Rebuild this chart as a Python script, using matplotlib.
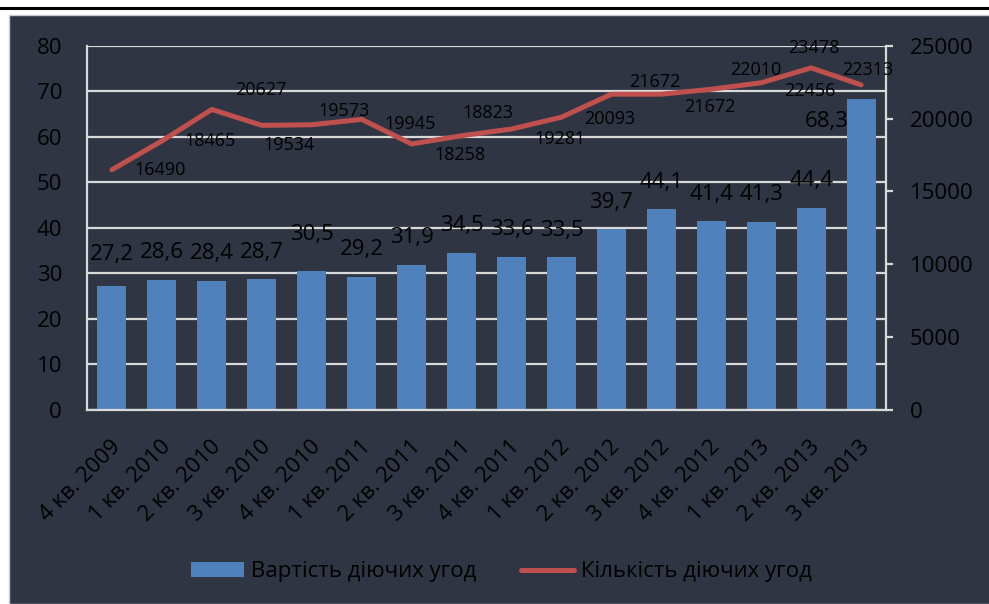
import matplotlib.pyplot as plt
import matplotlib.transforms as mtransforms
from matplotlib.patches import Rectangle
from matplotlib.lines import Line2D

plt.rcParams['font.family'] = ['Open Sans', 'DejaVu Sans']

# data
quarters = ['4 кв. 2009', '1 кв. 2010', '2 кв. 2010', '3 кв. 2010', '4 кв. 2010',
            '1 кв. 2011', '2 кв. 2011', '3 кв. 2011', '4 кв. 2011', '1 кв. 2012',
            '2 кв. 2012', '3 кв. 2012', '4 кв. 2012', '1 кв. 2013', '2 кв. 2013',
            '3 кв. 2013']
value = [27.2, 28.6, 28.4, 28.7, 30.5, 29.2, 31.9, 34.5, 33.6, 33.5,
         39.7, 44.1, 41.4, 41.3, 44.4, 68.3]
count = [16490, 18465, 20627, 19534, 19573, 19945, 18258, 18823, 19281, 20093,
         21672, 21672, 22010, 22456, 23478, 22313]

# label offsets (points)
bar_off = [(0, 23)] + [(0, 19.5)] * 3 + [(0, 26)] + [(0, 19.5)] * 10 + [(-25, -16.5)]
line_off = [(35, 0), (35, 0), (35, 14), (20, -14), (23, 10), (35, -3), (35, -8),
            (19, 16), (35, -7), (35, -1), (31, 9), (35, -9), (32, 14), (35, -6),
            (2, 14), (5, 11)]

bg = '#2f3542'
blue = '#4f81bd'
red = '#c0504d'
grid = '#d9d9d9'

fig = plt.figure(figsize=(9.89, 6.04), dpi=100)
fig.patch.set_facecolor('white')
fig.add_artist(Line2D([0, 1], [1 - 8 / 604, 1 - 8 / 604], color='black', lw=2.2,
                      transform=fig.transFigure))
fig.add_artist(Rectangle((9 / 989, 0), 1, 1 - 15 / 604, transform=fig.transFigure,
                         facecolor=bg, edgecolor='#c8cbd6', lw=1, zorder=0))

ax1 = fig.add_axes([87 / 989, 1 - 410 / 604, 799 / 989, 364.3 / 604])
ax1.set_facecolor('none')
ax2 = ax1.twinx()

x = list(range(len(quarters)))
bars = ax1.bar(x, value, width=0.58, color=blue, zorder=2, label='Вартість діючих угод')
ax2.plot(x, count, color=red, lw=3.6, solid_capstyle='round', solid_joinstyle='round',
         label='Кількість діючих угод')

for xi, v, (dx, dy) in zip(x, value, bar_off):
    ax1.annotate(f'{v:.1f}'.replace('.', ','), (xi, v), xytext=(dx, dy),
                 textcoords='offset points', ha='center', va='center', fontsize=16,
                 color='black')
for xi, c, (dx, dy) in zip(x, count, line_off):
    ax2.annotate(str(c), (xi, c), xytext=(dx, dy), textcoords='offset points',
                 ha='center', va='center', fontsize=13, color='black')

ax1.set_xlim(-0.5, len(quarters) - 0.5)
ax1.set_ylim(0, 80)
ax2.set_ylim(0, 25000)
ax1.set_yticks(range(0, 81, 10))
ax2.set_yticks(range(0, 25001, 5000))
ax1.yaxis.grid(True, color=grid, lw=1.6, zorder=0)
ax1.set_axisbelow(True)

ax1.set_xticks(x)
ax1.set_xticklabels(quarters, rotation=45, ha='right', va='center',
                    rotation_mode='anchor', fontsize=16)
ax1.tick_params(axis='x', length=0, pad=24)
shift = mtransforms.ScaledTranslation(4 / 72, 0, fig.dpi_scale_trans)
for lbl in ax1.get_xticklabels():
    lbl.set_transform(lbl.get_transform() + shift)
ax1.tick_params(axis='y', length=0, pad=18, labelsize=16)
ax2.tick_params(axis='y', length=5, width=1.6, color=grid, pad=12, labelsize=16)

for ax in (ax1, ax2):
    for s in ax.spines.values():
        s.set_visible(False)
ax1.spines['left'].set_visible(True)
ax1.spines['bottom'].set_visible(True)
ax2.spines['right'].set_visible(True)
for s in (ax1.spines['left'], ax1.spines['bottom'], ax2.spines['right']):
    s.set_color(grid)
    s.set_linewidth(1.6)

h1, l1 = ax1.get_legend_handles_labels()
h2, l2 = ax2.get_legend_handles_labels()
fig.legend(h1 + h2, l1 + l2, loc='center', bbox_to_anchor=(0.507, 0.053), ncol=2,
           frameon=False, fontsize=16, handlelength=2.4, handletextpad=0.3,
           columnspacing=2.0)

plt.savefig('out.png', dpi=100, facecolor=fig.get_facecolor())
